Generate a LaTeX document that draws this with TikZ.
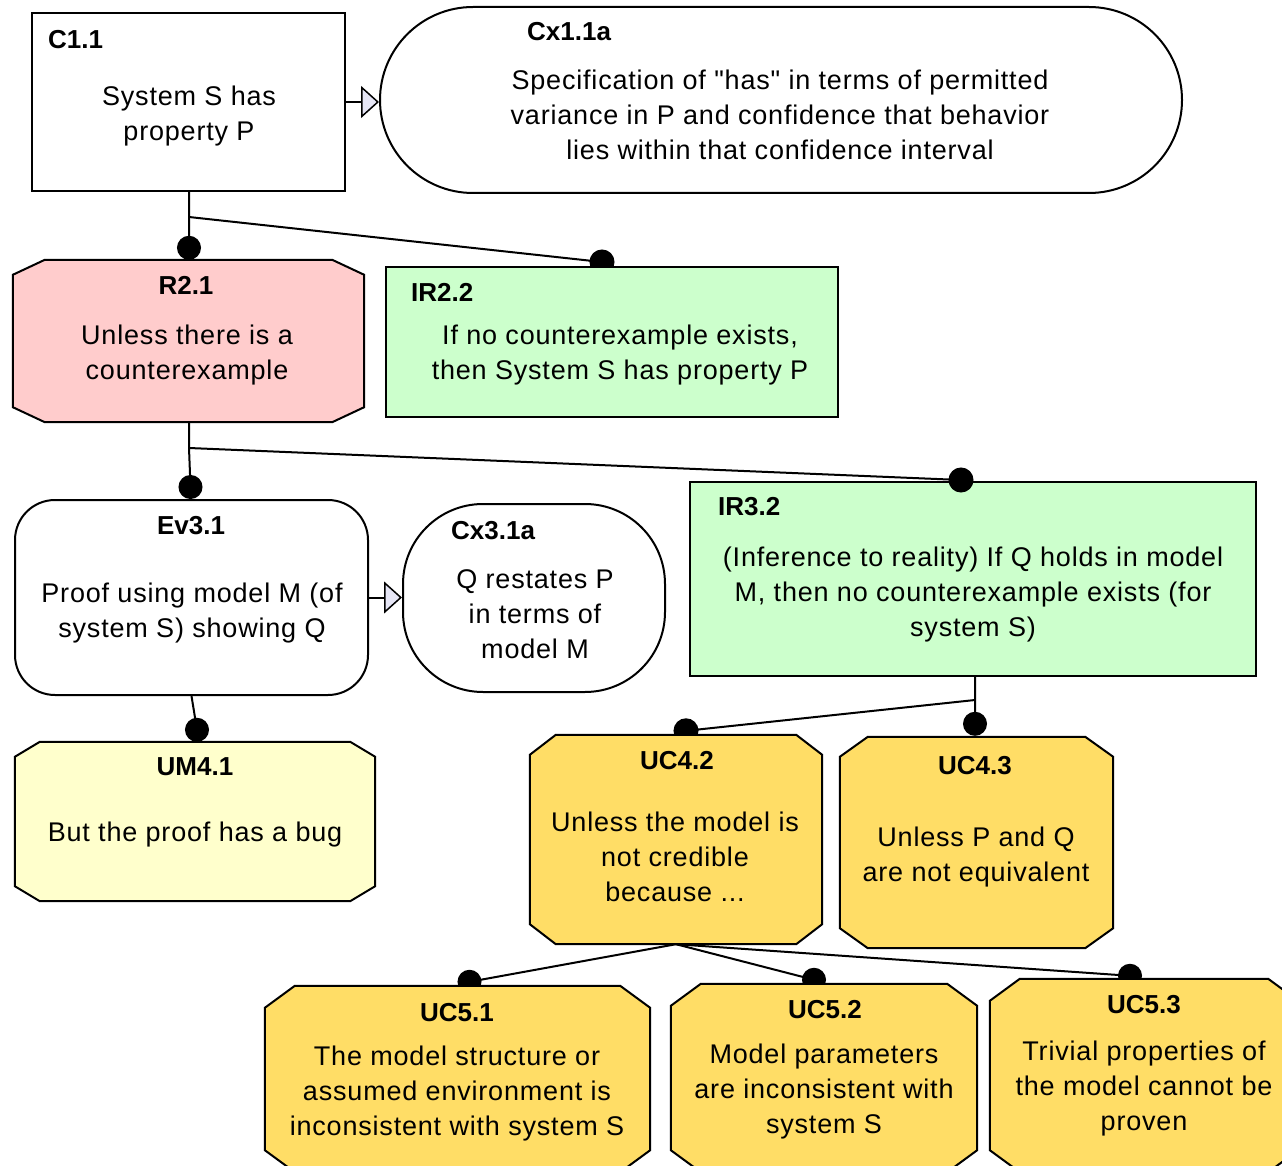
\documentclass[tikz,border=0pt]{standalone}
\usepackage{fontspec}
\setmainfont{Liberation Sans}
\newfontfamily\bodyfont{Liberation Sans}[LetterSpace=3]
\usepackage{tikz}
\usetikzlibrary{calc}
\usetikzlibrary{positioning}
\usetikzlibrary{arrows.meta}
\usetikzlibrary{backgrounds}

\definecolor{rebutfill}{HTML}{FFCCCC}
\definecolor{rulefill}{HTML}{CCFFCC}
\definecolor{undermfill}{HTML}{FFFFCC}
\definecolor{undercfill}{HTML}{FFDD66}
\definecolor{ctxtip}{HTML}{E6E6F6}

% octagon drawn round a named node: node, fill, x cut, y cut
\newcommand{\octbox}[4]{%
  \draw[line width=2pt, fill=#2] ($(#1.north west)+(#3,0)$) -- ($(#1.north east)+(-#3,0)$)
    -- ($(#1.north east)+(0,#4)$) -- ($(#1.south east)+(0,-#4)$)
    -- ($(#1.south east)+(-#3,0)$) -- ($(#1.south west)+(#3,0)$)
    -- ($(#1.south west)+(0,-#4)$) -- ($(#1.north west)+(0,#4)$) -- cycle;}

\begin{document}
\begin{tikzpicture}[x=1pt, y=-1pt,
    box/.style={draw, fill=white, line width=2pt, inner sep=0pt},
    area/.style={inner sep=0pt},
    lbl/.style={font=\fontsize{26}{30}\selectfont\bfseries, inner sep=0pt},
    txt/.style={font=\bodyfont\fontsize{27}{35}\selectfont, align=center, inner sep=0pt},
    con/.style={line width=2pt, fill=black},
    ctx/.style={line width=2pt, -{Triangle[length=18pt, width=32pt, fill=ctxtip, line width=1.5pt]}}]
				\path[use as bounding box, clip] (0,0) rectangle (1282,1166);

				\node[box, minimum width=313pt, minimum height=178pt] (C11) at (188.5,102) {};
				\node[box, rounded corners=93pt, minimum width=802pt, minimum height=186pt] (Cx11a) at (781,100) {};
				\node[area, minimum width=351pt, minimum height=162pt] (R21) at (188.5,341) {};
				\node[box, fill=rulefill, minimum width=452pt, minimum height=150pt] (IR22) at (612,342) {};
				\node[box, rounded corners=40pt, minimum width=353pt, minimum height=195pt] (Ev31) at (191.5,597.5) {};
				\node[box, rounded corners=80pt, minimum width=262pt, minimum height=188pt] (Cx31a) at (534,598) {};
				\node[box, fill=rulefill, minimum width=566pt, minimum height=194pt] (IR32) at (973,579) {};
				\node[area, minimum width=360pt, minimum height=159pt] (UM41) at (195,821.5) {};
				\node[area, minimum width=292pt, minimum height=209pt] (UC42) at (676,839.5) {};
				\node[area, minimum width=273pt, minimum height=211pt] (UC43) at (976.5,842.5) {};
				\node[area, minimum width=385pt, minimum height=186pt] (UC51) at (457.5,1079) {};
				\node[area, minimum width=306pt, minimum height=188pt] (UC52) at (824,1078) {};
				\node[area, minimum width=308pt, minimum height=193pt] (UC53) at (1144,1075.5) {};

				\octbox{R21}{rebutfill}{32}{15}
				\octbox{UM41}{undermfill}{25}{15}
				\octbox{UC42}{undercfill}{26}{20}
				\octbox{UC43}{undercfill}{28}{20}
				\octbox{UC51}{undercfill}{30}{22}
				\octbox{UC52}{undercfill}{30}{22}
				\octbox{UC53}{undercfill}{30}{22}

				\node[lbl, anchor=west] (C11l) at (48,40) {C1.1};
				\node[txt] (C11t) at (189,116) {System S has\\property P};
				\node[lbl, anchor=west] (Cx11al) at (527,32) {Cx1.1a};
				\node[txt] (Cx11at) at (780,115) {Specification of "has" in terms of permitted\\variance in P and confidence that behavior\\lies within that confidence interval};
				\node[lbl] (R21l) at (186,285) {R2.1};
				\node[txt] (R21t) at (187,355) {Unless there is a\\counterexample};
				\node[lbl, anchor=west] (IR22l) at (411,292) {IR2.2};
				\node[txt] (IR22t) at (620,355) {If no counterexample exists,\\then System S has property P};
				\node[lbl] (Ev31l) at (191,526) {Ev3.1};
				\node[txt] (Ev31t) at (192,613) {Proof using model M (of\\system S) showing Q};
				\node[lbl, anchor=west] (Cx31al) at (451,531) {Cx3.1a};
				\node[txt] (Cx31at) at (535,614) {Q restates P\\in terms of\\model M};
				\node[lbl, anchor=west] (IR32l) at (718,507) {IR3.2};
				\node[txt] (IR32t) at (973,595) {(Inference to reality) If Q holds in model\\M, then no counterexample exists (for\\system S)};
				\node[lbl] (UM41l) at (195,767) {UM4.1};
				\node[txt] (UM41t) at (195,835) {But the proof has a bug};
				\node[lbl] (UC42l) at (677,761) {UC4.2};
				\node[txt] (UC42t) at (675,857) {Unless the model is\\not credible\\because ...};
				\node[lbl] (UC43l) at (975,766) {UC4.3};
				\node[txt] (UC43t) at (976,857.5) {Unless P and Q\\are not equivalent};
				\node[lbl] (UC51l) at (457,1013) {UC5.1};
				\node[txt] (UC51t) at (457,1094) {The model structure or\\assumed environment is\\inconsistent with system S};
				\node[lbl] (UC52l) at (825,1010) {UC5.2};
				\node[txt] (UC52t) at (824,1092) {Model parameters\\are inconsistent with\\system S};
				\node[lbl] (UC53l) at (1144,1005) {UC5.3};
				\node[txt] (UC53t) at (1144,1089) {Trivial properties of\\the model cannot be\\proven};

				\coordinate (j1) at (189,217);
				\coordinate (j2) at (189,448);
				\coordinate (j3) at (975,700);

				\draw[ctx] (C11.east) -- (Cx11a.west |- C11.east);
				\draw[ctx] (Ev31.east) -- (Cx31a.west |- Ev31.east);
				\draw[con] (j2) -- ($(IR32.north)+(-12,-1)$) circle[radius=11.5pt];
				\begin{scope}[on background layer]
				\draw[con] (C11.south -| j1) -- (j1) -- ($(R21.north -| j1)+(0,-12)$) circle[radius=11pt];
				\draw[con] (j1) -- ($(IR22.north)+(-10,-4)$) circle[radius=11.5pt];
				\draw[con] (R21.south -| j2) -- (j2) -- ($(Ev31.north)+(-1,-12)$) circle[radius=11pt];
				\draw[con] (Ev31.south) -- ($(UM41.north)+(2,-12)$) circle[radius=11pt];
				\draw[con] (IR32.south -| j3) -- (j3) -- ($(UC43.north -| j3)+(0,-13)$) circle[radius=11pt];
				\draw[con] (j3) -- ($(UC42.north)+(10,-4)$) circle[radius=11.5pt];
				\draw[con] (UC42.south) -- ($(UC51.north)+(12,-4)$) circle[radius=11pt];
				\draw[con] (UC42.south) -- ($(UC52.north)+(-10,-4)$) circle[radius=11pt];
				\draw[con] (UC42.south) -- ($(UC53.north)+(-14,-3)$) circle[radius=11pt];
				\end{scope}
			\end{tikzpicture}
\end{document}
